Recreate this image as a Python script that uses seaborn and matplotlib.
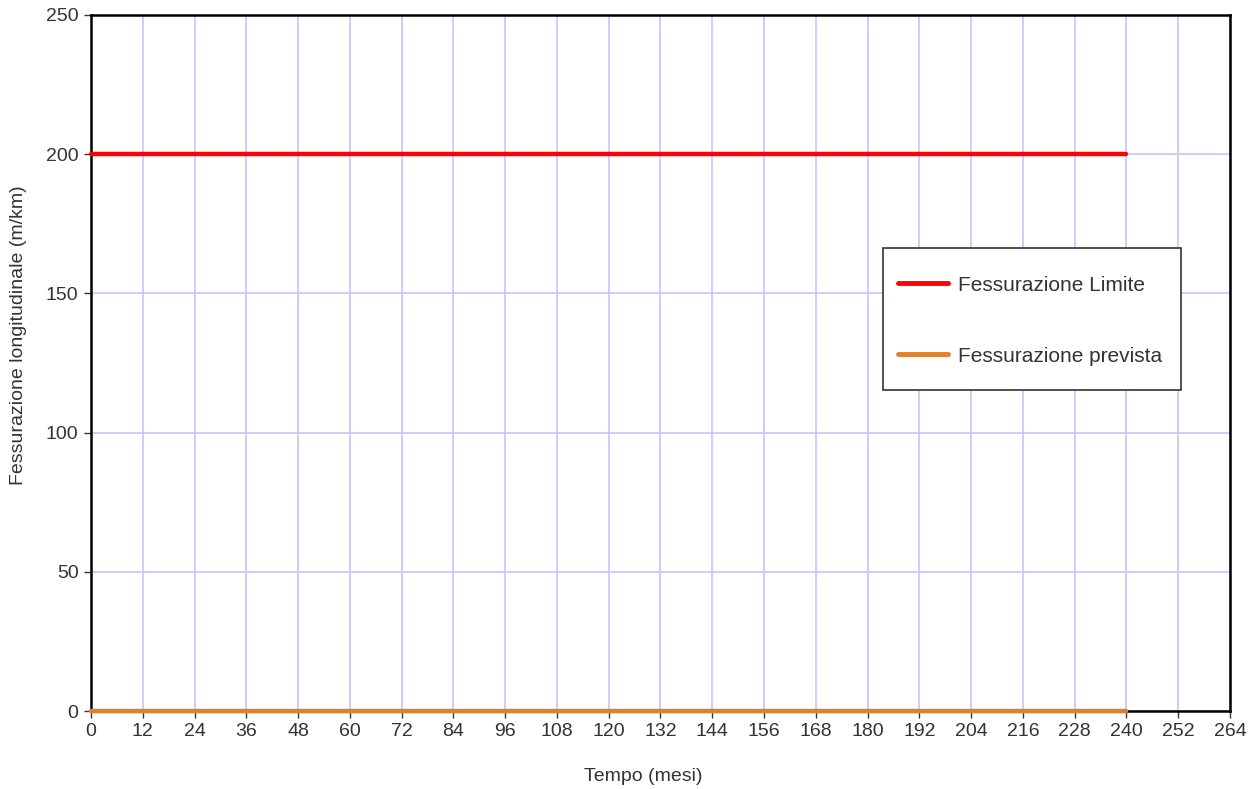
import matplotlib
matplotlib.use("Agg")
import matplotlib.pyplot as plt
from matplotlib.patches import Rectangle
import seaborn as sns
import pandas as pd

months = [0, 12, 24, 36, 48, 60, 72, 84, 96, 108, 120, 132, 144, 156, 168, 180, 192, 204, 216, 228, 240]
limite = [200, 200, 200, 200, 200, 200, 200, 200, 200, 200, 200, 200, 200, 200, 200, 200, 200, 200, 200, 200, 200]
prevista = [0, 0, 0, 0, 0, 0, 0, 0, 0, 0, 0, 0, 0, 0, 0, 0, 0, 0, 0, 0, 0]
x_ticks = list(range(0, 265, 12))
y_ticks = [0, 50, 100, 150, 200, 250]

sns.set_style("white")
plt.rcParams['font.family'] = ['Liberation Sans', 'DejaVu Sans']

df = pd.DataFrame({
    "Tempo": months * 2,
    "Valore": limite + prevista,
    "Serie": ["Fessurazione Limite"] * len(months) + ["Fessurazione prevista"] * len(months),
})

fig = plt.figure(figsize=(12.54, 7.89), dpi=100)
ax = fig.add_axes([91 / 1254, 1 - 711 / 789, (1230 - 91) / 1254, (711 - 15) / 789])

sns.lineplot(data=df, x="Tempo", y="Valore", hue="Serie",
             palette={"Fessurazione Limite": "#ff0000", "Fessurazione prevista": "#e07f30"},
             linewidth=3.2, ax=ax, legend=True, solid_capstyle="round")
for ln in ax.get_lines():
    ln.set_clip_on(False)
    ln.set_zorder(5)

ax.set_xlim(0, 264)
ax.set_ylim(0, 250)
ax.set_xticks(x_ticks)
ax.set_yticks(y_ticks)
ax.grid(True, color="#c8c8ff", linewidth=1.3)
ax.set_axisbelow(True)
for s in ax.spines.values():
    s.set_color("black")
    s.set_linewidth(1.8)
    s.set_visible(True)
ax.tick_params(axis="both", direction="out", length=5, width=1, color="#333333",
               labelsize=14, labelcolor="#333333", pad=4, bottom=True, left=True)
ax.set_xlabel("Tempo (mesi)", fontsize=14, color="#333333", va="top")
ax.set_ylabel("Fessurazione longitudinale (m/km)", fontsize=14, color="#333333")
ax.xaxis.set_label_coords(0.485, -0.082)
ax.yaxis.set_label_coords(-0.056, 0.54)

# legend frame drawn as a separate box (asymmetric padding as in the reference)
ax.add_patch(Rectangle((0.6954, 0.4612), 0.2616, 0.204, transform=ax.transAxes,
                       facecolor="white", edgecolor="#333333", linewidth=1.2, zorder=6))
leg = ax.legend(loc="upper left", bbox_to_anchor=(0.6927, 0.6509), frameon=False,
                fontsize=15, handlelength=2.4, labelspacing=2.5,
                borderpad=0.85, borderaxespad=0, handletextpad=0.5, title=None)
leg.set_zorder(7)
for t in leg.get_texts():
    t.set_color("#333333")
for l in leg.get_lines():
    l.set_linewidth(3.5)

fig.savefig("out.png", dpi=100)
